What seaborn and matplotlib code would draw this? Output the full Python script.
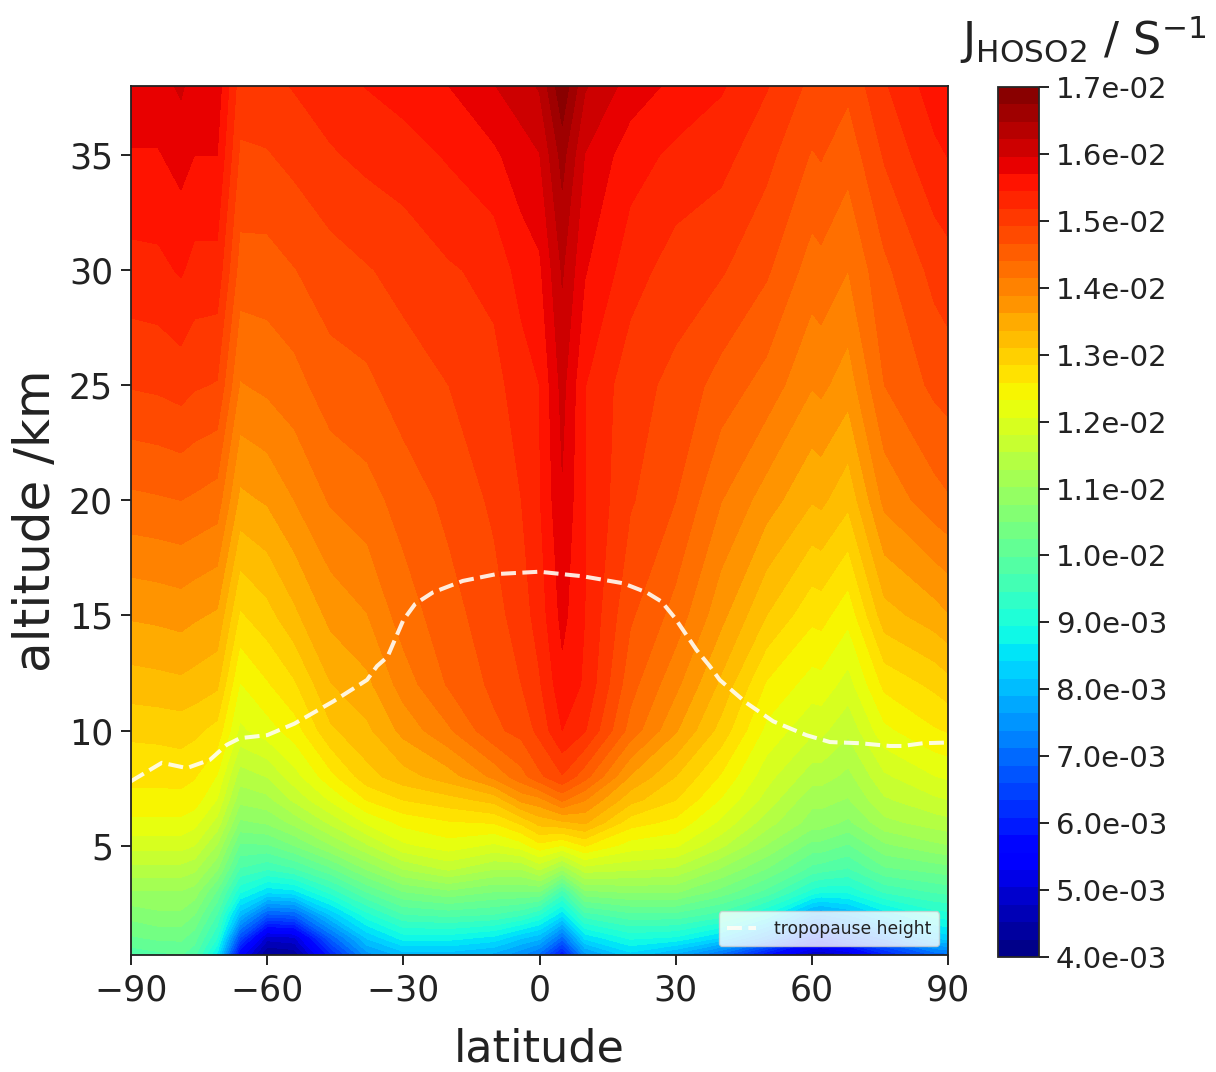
import numpy as np
import pandas as pd
import seaborn as sns
import matplotlib
matplotlib.use("Agg")
import matplotlib.pyplot as plt

# latitude columns and altitude rows of the J value grid
lat = [-90, -84, -79, -76, -71, -66, -60, -54, -46, -38, -30, -20, -10, -4, 0, 5, 10, 20, 30, 40, 50, 60, 62, 68, 76, 87, 90]
alt = [0.25, 1, 2, 3, 4, 5, 6, 7, 8, 10, 12, 15, 20, 25, 30, 35, 38]

# J values in 1e-3 s-1, one list per altitude
j_00 = [9.8, 9.9, 10.0, 9.8, 8.6, 5.5, 4.2, 4.3, 6.0, 7.5, 8.0, 8.0, 7.8, 7.4, 7.0, 5.8, 7.5, 8.3, 7.8, 7.0, 5.8, 4.8, 4.8, 5.0, 6.0, 6.9, 7.0]
j_01 = [10.2, 10.3, 10.3, 10.1, 9.2, 6.6, 4.9, 5.0, 6.9, 8.2, 8.8, 8.8, 8.6, 8.2, 8.0, 7.0, 8.5, 9.0, 8.9, 8.4, 7.5, 6.1, 6.0, 6.6, 7.2, 8.2, 8.3]
j_02 = [10.6, 10.7, 10.7, 10.5, 9.7, 8.0, 6.8, 6.9, 8.2, 9.1, 9.7, 9.8, 9.7, 9.5, 9.2, 8.5, 9.6, 9.9, 9.9, 9.6, 8.9, 7.7, 7.6, 7.9, 8.5, 9.05, 9.1]
j_03 = [11.0, 11.0, 11.0, 10.9, 10.2, 9.0, 8.5, 8.6, 9.3, 10.0, 10.5, 10.7, 10.5, 10.5, 10.5, 9.6, 10.7, 10.8, 10.8, 10.4, 9.9, 9.1, 9.0, 9.0, 9.5, 9.75, 9.8]
j_04 = [11.45, 11.45, 11.45, 11.35, 10.8, 9.7, 9.5, 9.7, 10.2, 10.8, 11.3, 11.6, 11.3, 11.3, 11.6, 11.1, 11.7, 11.6, 11.5, 11.0, 10.5, 9.9, 9.85, 9.7, 10.2, 10.35, 10.4]
j_05 = [11.9, 11.9, 11.9, 11.8, 11.25, 10.2, 10.2, 10.5, 11.0, 11.5, 12.0, 12.2, 12.0, 12.2, 12.5, 12.3, 12.6, 12.2, 12.1, 11.6, 11.0, 10.4, 10.4, 10.2, 10.7, 10.95, 11.0]
j_06 = [12.25, 12.25, 12.25, 12.15, 11.7, 10.7, 10.8, 11.1, 11.6, 12.1, 12.4, 12.55, 12.6, 12.9, 13.2, 13.3, 13.4, 12.7, 12.5, 12.0, 11.4, 10.9, 10.9, 10.7, 11.2, 11.4, 11.45]
j_07 = [12.5, 12.5, 12.5, 12.45, 12.05, 11.1, 11.2, 11.6, 12.1, 12.6, 12.85, 13.0, 13.2, 13.7, 13.8, 14.2, 13.9, 13.2, 12.85, 12.3, 11.7, 11.1, 11.1, 11.0, 11.5, 11.75, 11.8]
j_08 = [12.65, 12.65, 12.67, 12.6, 12.3, 11.4, 11.55, 11.95, 12.5, 13.0, 13.25, 13.5, 13.95, 14.3, 14.6, 14.9, 14.5, 13.6, 13.1, 12.55, 11.9, 11.4, 11.4, 11.2, 11.75, 12.05, 12.1]
j_10 = [12.9, 12.92, 12.95, 12.9, 12.75, 12.0, 12.2, 12.45, 13.05, 13.3, 13.7, 14.1, 14.6, 14.75, 15.0, 15.44, 15.2, 14.3, 13.65, 13.0, 12.25, 11.85, 11.87, 11.6, 12.25, 12.55, 12.6]
j_12 = [13.24, 13.27, 13.3, 13.25, 13.15, 12.3, 12.55, 12.8, 13.35, 13.55, 14.0, 14.43, 14.72, 14.92, 15.15, 15.62, 15.4, 14.5, 13.95, 13.3, 12.55, 12.2, 12.22, 11.95, 12.65, 12.9, 13.0]
j_15 = [13.65, 13.68, 13.72, 13.66, 13.58, 12.8, 13.0, 13.3, 13.7, 13.87, 14.27, 14.55, 14.82, 15.05, 15.3, 15.78, 15.44, 14.7, 14.3, 13.7, 13.1, 12.65, 12.68, 12.4, 13.25, 13.5, 13.6]
j_20 = [14.34, 14.37, 14.4, 14.36, 14.28, 13.55, 13.65, 13.88, 14.17, 14.3, 14.5, 14.73, 14.97, 15.18, 15.42, 15.93, 15.45, 14.95, 14.66, 14.15, 13.75, 13.38, 13.42, 13.17, 13.95, 14.3, 14.37]
j_25 = [14.94, 14.97, 15.03, 14.95, 14.9, 14.12, 14.2, 14.3, 14.55, 14.6, 14.8, 14.92, 15.1, 15.3, 15.44, 16.05, 15.45, 15.02, 14.85, 14.55, 14.3, 13.9, 13.94, 13.74, 14.4, 14.72, 14.77]
j_30 = [15.35, 15.37, 15.47, 15.35, 15.35, 14.55, 14.55, 14.65, 14.8, 14.9, 15.0, 15.15, 15.25, 15.55, 15.65, 16.25, 15.72, 15.3, 15.05, 14.95, 14.7, 14.28, 14.32, 14.14, 14.6, 15.0, 15.07]
j_35 = [15.68, 15.68, 15.8, 15.7, 15.7, 14.88, 14.9, 15.0, 15.15, 15.25, 15.32, 15.47, 15.65, 15.85, 15.95, 16.58, 15.95, 15.55, 15.38, 15.27, 15.0, 14.64, 14.68, 14.5, 14.95, 15.38, 15.45]
j_38 = [15.87, 15.87, 16.0, 15.85, 15.85, 15.05, 15.1, 15.2, 15.33, 15.45, 15.55, 15.7, 15.95, 16.1, 16.25, 16.95, 16.25, 15.85, 15.63, 15.47, 15.2, 14.85, 14.87, 14.72, 15.15, 15.57, 15.62]

# tropopause height
trop_lat = [-90, -83.2, -77.7, -72.6, -68.9, -66, -60, -54, -45.5, -38, -35.8, -33.5, -30, -27.4, -23.5, -16.9, -9.4, 0,
            9.6, 18.4, 23.6, 26.9, 29.8, 34.6, 37.5, 39.7, 45.6, 51.5, 58.8, 64, 70.6, 77.2, 80, 84.5, 90]
trop_alt = [7.8, 8.6, 8.37, 8.73, 9.38, 9.67, 9.8, 10.3, 11.26, 12.2, 12.8, 13.2, 14.8, 15.5, 16.0, 16.5, 16.8, 16.9,
            16.7, 16.4, 16.0, 15.6, 14.9, 13.5, 12.8, 12.2, 11.2, 10.4, 9.8, 9.5, 9.45, 9.33, 9.33, 9.45, 9.48]

lat_ticks = [-90, -60, -30, 0, 30, 60, 90]
alt_ticks = [5, 10, 15, 20, 25, 30, 35]
cbar_ticks = [4e-3, 5e-3, 6e-3, 7e-3, 8e-3, 9e-3, 1e-2, 1.1e-2, 1.2e-2, 1.3e-2, 1.4e-2, 1.5e-2, 1.6e-2, 1.7e-2]

grid = np.array([j_00, j_01, j_02, j_03, j_04, j_05, j_06, j_07, j_08, j_10,
                 j_12, j_15, j_20, j_25, j_30, j_35, j_38]) * 1e-3

sns.set_style("ticks")
plt.rcParams["font.family"] = ["DejaVu Sans"]

fig = plt.figure(figsize=(12.16, 10.72), dpi=100)
ax = fig.add_axes([131 / 1216, 1 - 955 / 1072, 817 / 1216, 869 / 1072])
cax = fig.add_axes([998 / 1216, 1 - 957 / 1072, 41 / 1216, 870 / 1072])

levels = np.linspace(4e-3, 1.7e-2, 51)
cf = ax.contourf(lat, alt, grid, levels=levels, cmap="jet")

df = pd.DataFrame({"lat": trop_lat, "alt": trop_alt})
sns.lineplot(data=df, x="lat", y="alt", ax=ax, color="#fffdf5", alpha=0.9, linewidth=2.9,
             linestyle="--", label="tropopause height")

ax.set_xlim(-90, 90)
ax.set_ylim(0.25, 38)
ax.set_xticks(lat_ticks)
ax.set_yticks(alt_ticks)
ax.tick_params(labelsize=25, length=7, width=1.4, color="#222222", labelcolor="#222222", pad=6)
ax.set_xlabel("latitude", fontsize=32, color="#222222", labelpad=15)
ax.set_ylabel("altitude /km", fontsize=36, color="#222222", labelpad=6)
for s in ax.spines.values():
    s.set_linewidth(1.3)
    s.set_color("#222222")

leg = ax.legend(loc="lower right", fontsize=12.3, framealpha=0.8, borderpad=0.5, handlelength=1.7, handletextpad=1.0)
for t in leg.get_texts():
    t.set_color("#222222")

cb = fig.colorbar(cf, cax=cax, ticks=cbar_ticks, format="%.1e")
cb.ax.tick_params(labelsize=21, length=7, width=1.4, color="#222222", labelcolor="#222222", pad=5)
cb.outline.set_linewidth(1.3)

fig.text(1083 / 1216, 1 - 55 / 1072, r"$\mathrm{J_{HOSO2}}$ / S$^{-1}$", fontsize=32, ha="center", color="#222222",
         math_fontfamily="dejavusans")

plt.savefig("out.png", dpi=100)
